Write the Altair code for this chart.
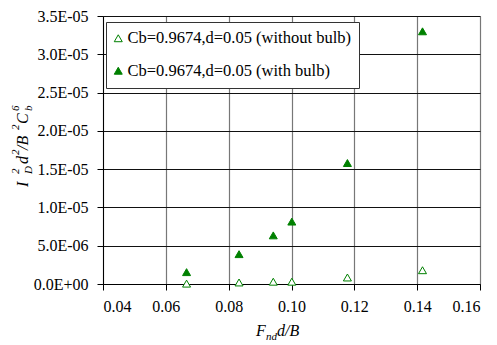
import altair as alt
import pandas as pd

# ---- data ----
x_vals = [0.0666, 0.0833, 0.0942, 0.1001, 0.1178, 0.1417]
y_without = [0.05e-6, 0.2e-6, 0.3e-6, 0.3e-6, 0.85e-6, 1.8e-6]
y_with = [1.55e-6, 3.9e-6, 6.35e-6, 8.15e-6, 1.58e-5, 3.30e-5]
series_names = ["Cb=0.9674,d=0.05 (without bulb)", "Cb=0.9674,d=0.05 (with bulb)"]
x_ticks = [0.04, 0.06, 0.08, 0.10, 0.12, 0.14, 0.16]
y_ticks = [0, 5e-6, 1e-5, 1.5e-5, 2e-5, 2.5e-5, 3e-5, 3.5e-5]
y_tick_labels = ["0.0E+00", "5.0E-06", "1.0E-05", "1.5E-05",
                 "2.0E-05", "2.5E-05", "3.0E-05", "3.5E-05"]

rows = []
for name, ys in zip(series_names, [y_without, y_with]):
    for xv, yv in zip(x_vals, ys):
        rows.append({"x": xv, "y": yv, "series": name})
df = pd.DataFrame(rows)

FONT = "Liberation Serif"
GREEN = "#008000"

label_expr = "[" + ",".join(f"'{l}'" for l in y_tick_labels) + "][round(datum.value/5e-6)]"

points = alt.Chart(df).mark_point(shape="triangle-up", size=64, strokeWidth=1,
                                  opacity=1, fillOpacity=1).encode(
    x=alt.X("x:Q",
            scale=alt.Scale(domain=[x_ticks[0], x_ticks[-1]], nice=False, zero=False),
            axis=alt.Axis(values=x_ticks, format=".2f", title=None,
                          grid=True, gridColor="#777777", gridWidth=1.2,
                          domainColor="black", tickColor="black", tickSize=6,
                          labelPadding=8, labelFont=FONT, labelFontSize=16,
                          labelColor="black")),
    y=alt.Y("y:Q",
            scale=alt.Scale(domain=[y_ticks[0], y_ticks[-1]], nice=False),
            axis=alt.Axis(values=y_ticks, labelExpr=label_expr, title=None,
                          grid=True, gridColor="#111111", gridWidth=1.2,
                          domainColor="black", tickColor="black", tickSize=6,
                          labelPadding=9, labelFont=FONT, labelFontSize=16,
                          labelColor="black")),
    fill=alt.Fill("series:N", scale=alt.Scale(domain=series_names, range=["white", GREEN]),
                  legend=alt.Legend(title=None, orient="none", legendX=3, legendY=6,
                                    fillColor="white", strokeColor="#333333",
                                    padding=8, rowPadding=15.5,
                                    symbolType="triangle-up", symbolSize=64,
                                    symbolStrokeColor=GREEN, symbolStrokeWidth=1,
                                    symbolOffset=-4, labelOffset=1,
                                    labelFont=FONT, labelFontSize=16.5, labelColor="black",
                                    labelLimit=400)),
    stroke=alt.value(GREEN),
)

one = pd.DataFrame({"a": [0]})


def piece(txt, x, y, size, angle=0):
    return alt.Chart(one).mark_text(
        font=FONT, fontStyle="italic", fontSize=size, angle=angle,
        align="left", baseline="alphabetic", color="black"
    ).encode(x=alt.value(x), y=alt.value(y), text=alt.value(txt))


OX, OY = 103, 16
MAIN, SCRIPT = 16, 11
# y-axis title: I_D^2 d^2/B^2 C_b^6 (rotated)
yb, ysup, ysub = 28 - OX, 19 - OX, 32 - OX
ytitle = [
    piece("I", yb, 187 - OY, MAIN, 270),
    piece("D", ysub, 174 - OY, SCRIPT, 270),
    piece("2", ysup, 174 - OY, SCRIPT, 270),
    piece("d", yb, 164 - OY, MAIN, 270),
    piece("2", ysup, 155 - OY, SCRIPT, 270),
    piece("/B", yb, 150 - OY, MAIN, 270),
    piece("2", ysup, 130 - OY, SCRIPT, 270),
    piece("C", yb, 124 - OY, MAIN, 270),
    piece("b", ysub, 111 - OY, SCRIPT, 270),
    piece("6", ysup, 111 - OY, SCRIPT, 270),
]
# x-axis title: F_nd d/B
xtitle = [
    piece("F", 256 - OX, 336 - OY, MAIN),
    piece("nd", 266 - OX, 340 - OY, SCRIPT),
    piece("d/B", 277 - OX, 336 - OY, MAIN),
]

chart = alt.layer(points, *ytitle, *xtitle).properties(
    width=377, height=268,
    autosize=alt.AutoSizeParams(type="none"),
    padding={"left": OX, "top": OY, "right": 17, "bottom": 61},
).configure_view(stroke="#808080", strokeWidth=1).configure(background="white")

chart.save("out.html", embed_options={"renderer": "svg", "actions": False})
